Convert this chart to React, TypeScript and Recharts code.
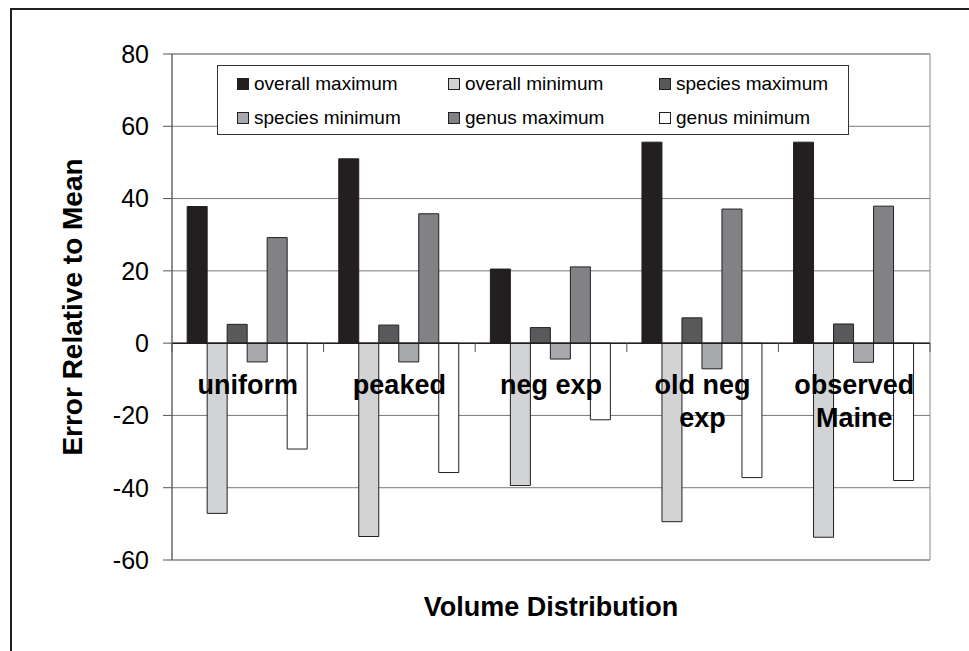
import React from "react";
import {
  Bar,
  BarChart,
  CartesianGrid,
  Legend,
  ReferenceArea,
  ReferenceLine,
  XAxis,
  YAxis,
} from "recharts";

const categories = ["uniform", "peaked", "neg exp", "old neg exp", "observed Maine"];
const categoryLines = [["uniform"], ["peaked"], ["neg exp"], ["old neg", "exp"], ["observed", "Maine"]];

const overallMax = [37.8, 51.0, 20.5, 55.6, 55.6];
const overallMin = [-47.1, -53.5, -39.4, -49.4, -53.7];
const speciesMax = [5.2, 5.0, 4.3, 7.0, 5.3];
const speciesMin = [-5.2, -5.2, -4.4, -7.1, -5.3];
const genusMax = [29.2, 35.8, 21.1, 37.1, 37.9];
const genusMin = [-29.3, -35.8, -21.2, -37.2, -38.0];

const yTicks = [-60, -40, -20, 0, 20, 40, 60, 80];

const series = [
  { key: "overallMax", name: "overall maximum", color: "#231f20", values: overallMax },
  { key: "overallMin", name: "overall minimum", color: "#d1d3d4", values: overallMin },
  { key: "speciesMax", name: "species maximum", color: "#58595b", values: speciesMax },
  { key: "speciesMin", name: "species minimum", color: "#a7a9ac", values: speciesMin },
  { key: "genusMax", name: "genus maximum", color: "#808285", values: genusMax },
  { key: "genusMin", name: "genus minimum", color: "#ffffff", values: genusMin },
];

const data = categories.map((name, i) => {
  const row: Record<string, string | number> = { name };
  series.forEach((s) => (row[s.key] = s.values[i]));
  return row;
});

const W = 969;
const H = 651;
const PLOT_TOP = 54;
const PLOT_LEFT = 172;
const PLOT_RIGHT = 930;
const PLOT_BOTTOM = 560;
const Y_AXIS_W = 60;
const X_AXIS_H = 30;
const FONT = '"Liberation Sans", Arial, Helvetica, sans-serif';

const Y_MIN = yTicks[0];
const Y_MAX = yTicks[yTicks.length - 1];
const zeroY = PLOT_TOP + ((PLOT_BOTTOM - PLOT_TOP) * Y_MAX) / (Y_MAX - Y_MIN);
const band = (PLOT_RIGHT - PLOT_LEFT) / categories.length;

function CategoryTick(props: any) {
  const { x, payload, index } = props;
  const lines = categoryLines[index] || [payload.value];
  return (
    <g>
      <line x1={x - band / 2} x2={x - band / 2} y1={zeroY} y2={zeroY + 9} stroke="#555" />
      {index === categories.length - 1 && (
        <line x1={x + band / 2} x2={x + band / 2} y1={zeroY} y2={zeroY + 9} stroke="#555" />
      )}
      {lines.map((t: string, j: number) => (
        <text
          key={j}
          x={x}
          y={zeroY + 51 + j * 33}
          textAnchor="middle"
          fontSize={27}
          fontWeight="bold"
          fill="#000"
          fontFamily={FONT}
        >
          {t}
        </text>
      ))}
    </g>
  );
}

function LegendBox(props: any) {
  const order = series.map((s) => s.name);
  const payload = [...(props.payload || [])].sort(
    (a: any, b: any) => order.indexOf(a.value) - order.indexOf(b.value)
  );
  return (
    <div
      style={{
        boxSizing: "border-box",
        width: 632,
        height: 70,
        background: "#fff",
        border: "1.5px solid #333",
        display: "grid",
        gridTemplateColumns: "211px 211px 211px",
        gridAutoRows: "34px",
        padding: "1px 0 0 19px",
        fontFamily: FONT,
        fontSize: 19,
        color: "#000",
      }}
    >
      {payload.map((p: any) => (
        <div key={p.value} style={{ display: "flex", alignItems: "center" }}>
          <span
            style={{
              display: "inline-block",
              width: 10,
              height: 10,
              background: p.color,
              border: "1px solid #231f20",
              marginRight: 5,
            }}
          />
          <span>{p.value}</span>
        </div>
      ))}
    </div>
  );
}

export default function App() {
  return (
    <div style={{ position: "fixed", left: 0, top: 0, width: W, height: H, overflow: "hidden", background: "#fff", fontFamily: FONT }}>
      <div
        style={{
          position: "absolute",
          left: 10,
          top: 8,
          width: 1000,
          height: 700,
          border: "2px solid #231f20",
        }}
      />
      <div style={{ position: "absolute", left: 0, top: 0 }}>
        <BarChart
          width={W}
          height={H}
          data={data}
          margin={{
            top: PLOT_TOP,
            left: PLOT_LEFT - Y_AXIS_W,
            right: W - PLOT_RIGHT,
            bottom: H - PLOT_BOTTOM - X_AXIS_H,
          }}
          barCategoryGap="10%"
          barGap={0}
        >
          <CartesianGrid vertical={false} stroke="#7a7a7a" />
          <ReferenceArea y1={Y_MIN} y2={Y_MAX} fill="none" stroke="#8a8a8a" ifOverflow="visible" />
          <YAxis
            width={Y_AXIS_W}
            domain={[Y_MIN, Y_MAX]}
            ticks={yTicks}
            interval={0}
            stroke="#555"
            tickSize={9}
            tickMargin={14}
            tick={{ fontSize: 25, fill: "#000", fontFamily: FONT }}
            label={{
              content: (p: any) => {
                const vb = p.viewBox;
                const cx = vb.x - 40;
                const cy = vb.y + vb.height / 2;
                return (
                  <text
                    x={cx}
                    y={cy}
                    transform={`rotate(-90 ${cx} ${cy})`}
                    textAnchor="middle"
                    dominantBaseline="central"
                    fontSize={28}
                    fontWeight="bold"
                    fill="#000"
                    fontFamily={FONT}
                  >
                    Error Relative to Mean
                  </text>
                );
              },
            }}
          />
          {series.map((s) => (
            <Bar
              key={s.key}
              dataKey={s.key}
              name={s.name}
              fill={s.color}
              stroke="#231f20"
              strokeWidth={1}
              isAnimationActive={false}
            />
          ))}
          <ReferenceLine y={0} stroke="#231f20" strokeWidth={1.5} />
          <XAxis
            dataKey="name"
            height={X_AXIS_H}
            axisLine={false}
            tickLine={false}
            interval={0}
            tick={<CategoryTick />}
            label={{
              content: (p: any) => {
                const vb = p.viewBox;
                return (
                  <text
                    x={vb.x + vb.width / 2}
                    y={vb.y + 47}
                    textAnchor="middle"
                    dominantBaseline="central"
                    fontSize={27}
                    fontWeight="bold"
                    fill="#000"
                    fontFamily={FONT}
                  >
                    Volume Distribution
                  </text>
                );
              },
            }}
          />
          <Legend
            layout="vertical"
            align="center"
            verticalAlign="middle"
            itemSorter={null as any}
            content={<LegendBox />}
            wrapperStyle={{ left: 217, top: 65, width: 632, height: 70, margin: 0 }}
          />
        </BarChart>
      </div>
    </div>
  );
}
